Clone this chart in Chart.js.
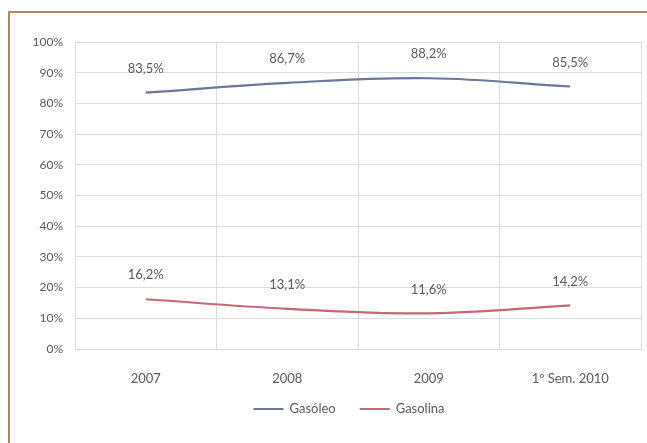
<!DOCTYPE html>
<html>
<head>
<meta charset="utf-8">
<script src="https://cdn.jsdelivr.net/npm/chart.js@4/dist/chart.umd.min.js"></script>
<style>
  html, body { margin: 0; padding: 0; background: #fff; }
  #wrap { position: relative; width: 647px; height: 443px; }
  #frame { position: absolute; left: 8px; top: 11px; right: 0; bottom: 0;
           border-top: 2px solid #b38b59; border-left: 2px solid #b38b59; pointer-events: none; }
  canvas { position: absolute; left: 0; top: 0; }
</style>
</head>
<body>
<div id="wrap">
  <canvas id="c" width="647" height="443"></canvas>
  <div id="frame"></div>
</div>
<script>
// Fuel share by year
const categories = ['2007', '2008', '2009', '1º Sem. 2010'];
const gasoleo = [83.5, 86.7, 88.2, 85.5];
const gasolina = [16.2, 13.1, 11.6, 14.2];
const yTicks = [0, 10, 20, 30, 40, 50, 60, 70, 80, 90, 100];

const FONT = 'Lato, "Open Sans", sans-serif';
const TEXT = '#595959';

// value labels above each point
const valueLabels = {
  id: 'valueLabels',
  afterDatasetsDraw(chart) {
    const ctx = chart.ctx;
    ctx.save();
    ctx.font = '13px ' + FONT;
    ctx.fillStyle = TEXT;
    ctx.textAlign = 'center';
    ctx.textBaseline = 'middle';
    chart.data.datasets.forEach((ds, i) => {
      chart.getDatasetMeta(i).data.forEach((pt, j) => {
        const txt = ds.data[j].toFixed(1).replace('.', ',') + '%';
        ctx.fillText(txt, pt.x, pt.y - 24);
      });
    });
    ctx.restore();
  }
};

// line-sample legend under the axis
const lineLegend = {
  id: 'lineLegend',
  afterDraw(chart) {
    const ctx = chart.ctx;
    const sample = 30, gap = 6, spacing = 24, y = 409;
    ctx.save();
    ctx.font = '13px ' + FONT;
    const items = chart.data.datasets.map(ds => ({ ds, w: sample + gap + ctx.measureText(ds.label).width }));
    const total = items.reduce((a, it) => a + it.w, 0) + spacing * (items.length - 1);
    let x = 349 - total / 2;
    items.forEach(it => {
      ctx.strokeStyle = it.ds.borderColor;
      ctx.lineWidth = 2;
      ctx.beginPath();
      ctx.moveTo(x, y);
      ctx.lineTo(x + sample, y);
      ctx.stroke();
      ctx.fillStyle = TEXT;
      ctx.textAlign = 'left';
      ctx.textBaseline = 'middle';
      ctx.fillText(it.ds.label, x + sample + gap, y);
      x += it.w + spacing;
    });
    ctx.restore();
  }
};

new Chart(document.getElementById('c'), {
  type: 'line',
  data: {
    labels: categories,
    datasets: [
      { label: 'Gasóleo', data: gasoleo, borderColor: '#6b7899', backgroundColor: '#6b7899',
        borderWidth: 2.2, tension: 0.4, pointRadius: 0 },
      { label: 'Gasolina', data: gasolina, borderColor: '#c46a74', backgroundColor: '#c46a74',
        borderWidth: 2.2, tension: 0.4, pointRadius: 0 }
    ]
  },
  options: {
    responsive: false,
    animation: false,
    layout: { padding: { left: 10, top: 42, right: 6, bottom: 0 } },
    plugins: {
      legend: { display: false },
      tooltip: { enabled: false }
    },
    scales: {
      x: {
        offset: true,
        grid: { color: '#dcdcdc', offset: true, drawTicks: false },
        border: { color: '#dcdcdc' },
        ticks: { color: TEXT, font: { family: FONT, size: 13 }, padding: 22 },
        afterFit(s) { s.height = 94; }
      },
      y: {
        min: 0, max: 100,
        afterBuildTicks(s) { s.ticks = yTicks.map(v => ({ value: v })); },
        grid: { color: '#dcdcdc', drawTicks: false },
        border: { display: false },
        ticks: { color: TEXT, font: { family: FONT, size: 12 }, padding: 12,
                 callback: v => v + '%' },
        afterFit(s) { s.width = 65; }
      }
    }
  },
  plugins: [valueLabels, lineLegend]
});
</script>
</body>
</html>
